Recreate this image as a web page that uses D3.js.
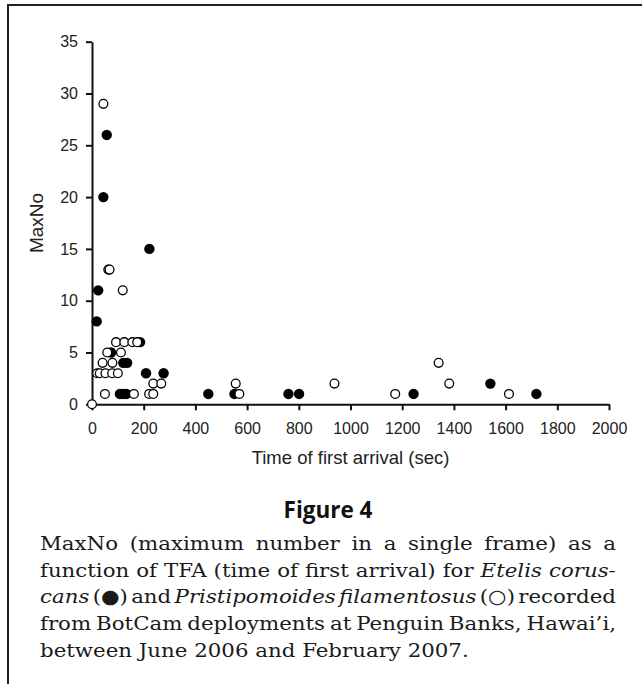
<!DOCTYPE html>
<html>
<head>
<meta charset="utf-8">
<script src="https://cdn.jsdelivr.net/npm/d3@7"></script>
<style>
  html, body { margin: 0; padding: 0; background: #fff; }
  svg { display: block; }
</style>
</head>
<body>
<svg id="chart" width="642" height="684"></svg>
<script>
// Etelis coruscans (filled)
const etelisTFA   = [57, 44, 222, 24, 18, 186, 74, 121, 136, 209, 277, 108, 120, 133, 450, 551, 760, 801, 1244, 1541, 1719];
const etelisMaxNo = [26, 20, 15, 11, 8, 6, 5, 4, 4, 3, 3, 1, 1, 1, 1, 1, 1, 1, 1, 2, 1];
// Pristipomoides filamentosus (open)
const pristiTFA   = [0, 44, 63, 68, 119, 93, 125, 156, 175, 59, 112, 41, 79, 20, 30, 52, 78, 100, 237, 268, 50, 162, 221, 237, 556, 570, 938, 1173, 1341, 1382, 1613];
const pristiMaxNo = [0, 29, 13, 13, 11, 6, 6, 6, 6, 5, 5, 4, 4, 3, 3, 3, 3, 3, 2, 2, 1, 1, 1, 1, 2, 1, 2, 1, 4, 2, 1];

const xTicks = [0, 200, 400, 600, 800, 1000, 1200, 1400, 1600, 1800, 2000];
const yTicks = [0, 5, 10, 15, 20, 25, 30, 35];

const figureLabel = "Figure 4";
const captionLines = [
  [["MaxNo (maximum number in a single frame) as a", false]],
  [["function of TFA (time of first arrival) for ", false], ["Etelis corus-", true]],
  [["cans", true], [" (\u25CF) and ", false], ["Pristipomoides filamentosus", true], [" (\u25CB) recorded", false]],
  [["from BotCam deployments at Penguin Banks, Hawai\u2019i,", false]],
  [["between June 2006 and February 2007.", false]]
];

const svg = d3.select("#chart");

// frame lines (top and left)
svg.append("line").attr("x1", 7).attr("x2", 642).attr("y1", 5).attr("y2", 5)
  .attr("stroke", "#222").attr("stroke-width", 2);
svg.append("line").attr("x1", 8).attr("x2", 8).attr("y1", 4).attr("y2", 684)
  .attr("stroke", "#222").attr("stroke-width", 2);

const x = d3.scaleLinear().domain([0, 2000]).range([92, 609]);
const y = d3.scaleLinear().domain([0, 35]).range([404.3, 41.7]);

const xAxis = svg.append("g")
  .attr("transform", `translate(0,${y(0)})`)
  .call(d3.axisBottom(x).tickValues(xTicks).tickSize(6).tickSizeOuter(0).tickPadding(12.7).tickFormat(d3.format("d")));
const yAxis = svg.append("g")
  .attr("transform", `translate(${x(0)},0)`)
  .call(d3.axisLeft(y).tickValues(yTicks).tickSize(6).tickSizeOuter(0).tickPadding(8));

[xAxis, yAxis].forEach(g => {
  g.select(".domain").attr("stroke", "#111").attr("stroke-width", 2);
  g.selectAll(".tick line").attr("stroke", "#111").attr("stroke-width", 2);
  g.selectAll(".tick text")
    .attr("font-family", "'Liberation Sans', Arial, sans-serif")
    .attr("font-size", 16).attr("fill", "#222");
});

svg.append("text")
  .attr("x", (x(0) + x(2000)) / 2).attr("y", 464)
  .attr("text-anchor", "middle")
  .attr("font-family", "'Liberation Sans', Arial, sans-serif")
  .attr("font-size", 18.5).attr("fill", "#222")
  .text("Time of first arrival (sec)");

svg.append("text")
  .attr("transform", `translate(43,${(y(0) + y(35)) / 2}) rotate(-90)`)
  .attr("text-anchor", "middle")
  .attr("font-family", "'Liberation Sans', Arial, sans-serif")
  .attr("font-size", 19).attr("fill", "#222")
  .text("MaxNo");

// points
const etelis = etelisTFA.map((t, i) => ({ t, n: etelisMaxNo[i] }));
const pristi = pristiTFA.map((t, i) => ({ t, n: pristiMaxNo[i] }));

svg.append("g").selectAll("circle").data(etelis).join("circle")
  .attr("cx", d => x(d.t)).attr("cy", d => y(d.n)).attr("r", 5.2)
  .attr("fill", "#000");

svg.append("g").selectAll("circle").data(pristi).join("circle")
  .attr("cx", d => x(d.t)).attr("cy", d => y(d.n)).attr("r", 4.4)
  .attr("fill", "#fff").attr("stroke", "#000").attr("stroke-width", 1.3);

// figure title + caption
svg.append("text")
  .attr("x", 328).attr("y", 518)
  .attr("text-anchor", "middle")
  .attr("font-family", "'Open Sans', sans-serif")
  .attr("font-weight", 700).attr("font-size", 22.5).attr("fill", "#111")
  .text(figureLabel);

const capLeft = 40, capRight = 616, capTop = 550, capStep = 26.7;
const lastWidth = 429;

const capG = svg.append("g");
const capLines = capG.selectAll("text").data(captionLines).join("text")
  .attr("x", 0).attr("y", (d, i) => capTop + i * capStep)
  .attr("font-family", "'DejaVu Serif', serif")
  .attr("font-size", 19).attr("fill", "#1a1a1a")
  .style("white-space", "pre");

capLines.selectAll("tspan").data(d => d).join("tspan")
  .attr("font-style", d => d[1] ? "italic" : "normal")
  .text(d => d[0]);

// the printed serif is wider than DejaVu: stretch horizontally, calibrated on the last line
const lastNode = capLines.nodes()[captionLines.length - 1];
const sx = lastWidth / lastNode.getBBox().width;
capG.attr("transform", `translate(${capLeft},0) scale(${sx},1)`);

// justify other lines with word spacing
capLines.each(function(d, i) {
  if (i === captionLines.length - 1) return;
  const w = this.getBBox().width;
  const spaces = d.map(s => s[0]).join("").split(" ").length - 1;
  d3.select(this).attr("word-spacing", ((capRight - capLeft) / sx - w) / spaces);
});
</script>
</body>
</html>
